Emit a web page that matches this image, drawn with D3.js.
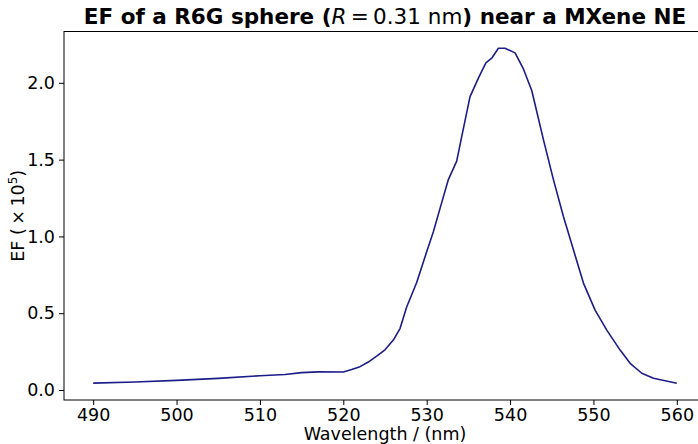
<!DOCTYPE html>
<html>
<head>
<meta charset="utf-8">
<script src="https://cdn.jsdelivr.net/npm/d3@7"></script>
<style>
  body { margin: 0; background: #fff; }
  svg { font-family: "DejaVu Sans", sans-serif; }
</style>
</head>
<body>
<div id="chart"></div>
<script>
var width = 698;
var height = 444;

// wavelength (nm) and enhancement factor (x1e5)
var wavelength = [490, 495, 500, 505, 510, 513, 515, 517, 520, 521, 522, 523, 524, 525, 526, 526.8,
  527.6, 528.8, 530, 530.8, 531.8, 532.6, 533.6, 534.2, 535.2, 536.2, 537.1, 537.8, 538.6, 539.4,
  540.6, 541.6, 542.6, 544, 545.2, 546.4, 547.6, 548.8, 550.2, 551.6, 553.2, 554.4, 555.8, 557.2, 560];
var ef = [0.045, 0.052, 0.063, 0.076, 0.093, 0.101, 0.113, 0.118, 0.117, 0.133, 0.152, 0.182, 0.22, 0.262, 0.325, 0.40,
  0.54, 0.70, 0.90, 1.03, 1.22, 1.37, 1.49, 1.65, 1.91, 2.03, 2.13, 2.16, 2.225, 2.225,
  2.195, 2.09, 1.95, 1.63, 1.37, 1.13, 0.913, 0.696, 0.52, 0.39, 0.26, 0.174, 0.109, 0.076, 0.044];

var xTicks = [490, 500, 510, 520, 530, 540, 550, 560];
var yTicks = [0, 0.5, 1.0, 1.5, 2.0];

var mLeft = 64, mTop = 31.5, mRight = 706, mBottom = 400;

var svg = d3.select("#chart").append("svg")
  .attr("width", width)
  .attr("height", height);

// matplotlib style 5% margins
function padded(ext) {
  var m = (ext[1] - ext[0]) * 0.05;
  return [ext[0] - m, ext[1] + m];
}

var x = d3.scaleLinear().domain(padded(d3.extent(wavelength))).range([mLeft, mRight]);
var y = d3.scaleLinear().domain(padded(d3.extent(ef))).range([mBottom, mTop]);

var data = wavelength.map(function(w, i) { return [w, ef[i]]; });

var line = d3.line()
  .x(function(d) { return x(d[0]); })
  .y(function(d) { return y(d[1]); });

svg.append("path")
  .datum(data)
  .attr("d", line)
  .attr("fill", "none")
  .attr("stroke", "#1c1c8a")
  .attr("stroke-width", 1.6)
  .attr("stroke-linejoin", "round");

// frame
svg.append("rect")
  .attr("x", mLeft).attr("y", mTop)
  .attr("width", mRight - mLeft).attr("height", mBottom - mTop)
  .attr("fill", "none")
  .attr("stroke", "#000")
  .attr("stroke-width", 1);

var xAxis = svg.append("g")
  .attr("transform", "translate(0," + mBottom + ")")
  .call(d3.axisBottom(x).tickValues(xTicks).tickSize(5).tickPadding(4).tickFormat(d3.format("d")));

var yAxis = svg.append("g")
  .attr("transform", "translate(" + mLeft + ",0)")
  .call(d3.axisLeft(y).tickValues(yTicks).tickSize(5).tickPadding(4).tickFormat(d3.format(".1f")));

[xAxis, yAxis].forEach(function(g) {
  g.select(".domain").remove();
  g.selectAll("text")
    .attr("font-family", "DejaVu Sans")
    .attr("font-size", 17.5)
    .attr("fill", "#000");
  g.selectAll("line").attr("stroke", "#000");
});

// title
var title = svg.append("text")
  .attr("x", 385)
  .attr("y", 24)
  .attr("text-anchor", "middle")
  .attr("font-size", 21.5);
title.append("tspan").attr("font-weight", "bold").text("EF of a R6G sphere (");
title.append("tspan").attr("font-style", "italic").text("R");
title.append("tspan").text("\u2009=\u20090.31 nm");
title.append("tspan").attr("font-weight", "bold").text(") near a MXene NE");

// axis labels
svg.append("text")
  .attr("x", 385)
  .attr("y", 440)
  .attr("text-anchor", "middle")
  .attr("font-size", 17.5)
  .text("Wavelength / (nm)");

var yl = svg.append("text")
  .attr("transform", "translate(24," + ((mTop + mBottom) / 2) + ") rotate(-90)")
  .attr("text-anchor", "middle")
  .attr("font-size", 17.5);
yl.append("tspan").text("EF (\u2009\u00d7\u200910");
yl.append("tspan").attr("font-size", 12).attr("dy", -7).text("5");
yl.append("tspan").attr("dy", 7).text(")");
</script>
</body>
</html>
